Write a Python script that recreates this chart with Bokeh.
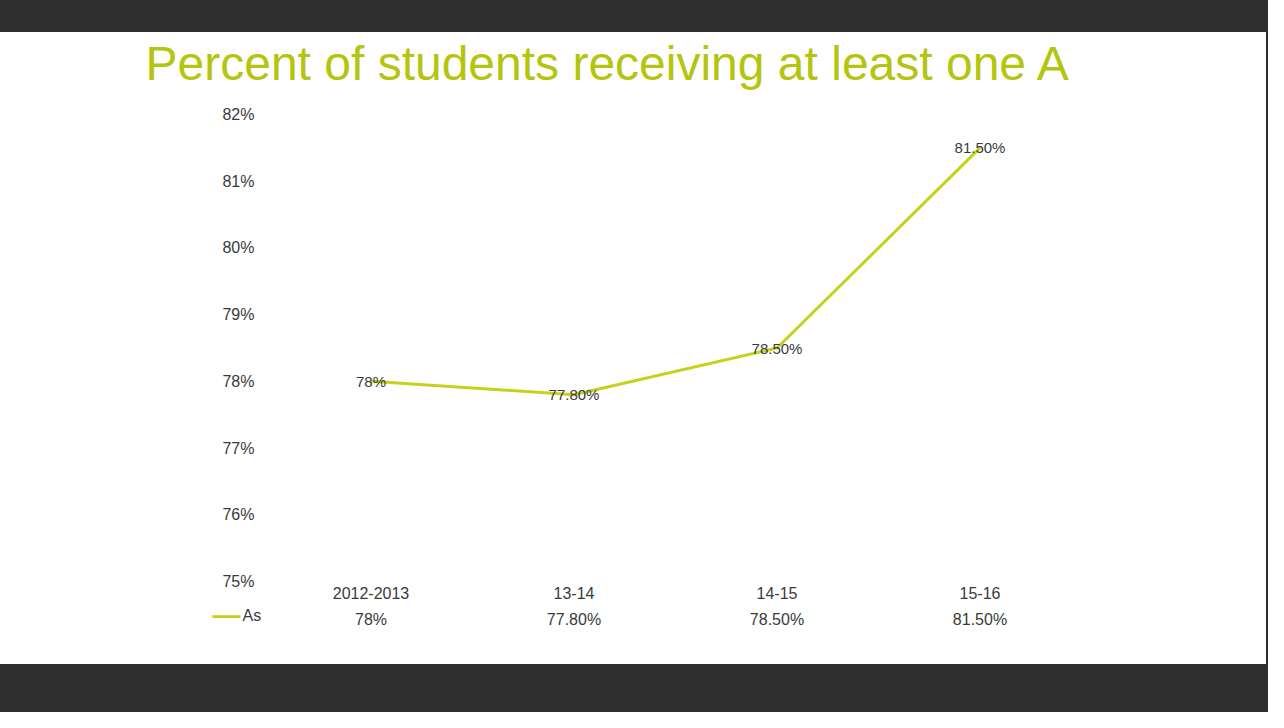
from bokeh.plotting import figure
from bokeh.layouts import column
from bokeh.models import (Range1d, FactorRange, CategoricalAxis, FixedTicker,
                          PrintfTickFormatter, Title)
from bokeh.embed import file_html
from bokeh.resources import INLINE
from bokeh.core.properties import value

# ---- data ----
categories = ["2012-2013", "13-14", "14-15", "15-16"]
values = [78.0, 77.8, 78.5, 81.5]
value_labels = ["78%", "77.80%", "78.50%", "81.50%"]
y_ticks = [75, 76, 77, 78, 79, 80, 81, 82]
series_name = "As"
title_text = "Percent of students receiving at least one A"

LINE = "#c5d21c"
TITLE_C = "#b5c40f"
TXT = "#3a3a3a"
FONT = "Liberation Sans"

p = figure(width=1266, height=632, x_range=FactorRange(*categories),
           y_range=Range1d(75, 82.345), output_backend="svg",
           toolbar_location=None, tools="", outline_line_color=None,
           min_border_left=269, min_border_right=185, min_border_top=59,
           min_border_bottom=83)
p.margin = (32, 2, 48, 0)
p.styles = {"background-color": "white"}
p.background_fill_color = "white"
p.border_fill_color = "white"
p.grid.visible = False

t = Title(text=title_text, text_font=FONT, text_font_size="48px",
          text_font_style="normal", text_color=TITLE_C, align="left",
          offset=-124, standoff=4)
p.add_layout(t, "above")

# y axis
p.yaxis.ticker = FixedTicker(ticks=y_ticks)
p.yaxis.formatter = PrintfTickFormatter(format="%d%%")
p.yaxis.axis_line_color = None
p.yaxis.major_tick_line_color = None
p.yaxis.minor_tick_line_color = None
p.yaxis.major_tick_out = 0
p.yaxis.major_label_standoff = 15
p.yaxis.major_label_text_font = FONT
p.yaxis.major_label_text_font_size = "16px"
p.yaxis.major_label_text_color = TXT

# x axis (category row)
xa = p.xaxis[0]
xa.axis_line_color = None
xa.major_tick_line_color = None
xa.major_tick_out = 0
xa.major_label_standoff = 5
xa.major_label_text_font = FONT
xa.major_label_text_font_size = "16px"
xa.major_label_text_color = TXT

# data-table row (values)
p.extra_x_ranges = {"vals": FactorRange(*value_labels)}
xa2 = CategoricalAxis(x_range_name="vals")
xa2.axis_line_color = None
xa2.major_tick_line_color = None
xa2.major_tick_out = 0
xa2.major_label_standoff = 9
xa2.major_label_text_font = FONT
xa2.major_label_text_font_size = "16px"
xa2.major_label_text_color = TXT
p.add_layout(xa2, "below")

r = p.line(x=categories, y=values, line_color=LINE, line_width=3)
p.text(x=categories, y=values, text=value_labels, text_align="center",
       text_baseline="middle", text_font=value(FONT), text_font_size="15px",
       text_color=TXT)

# legend key of the data table (series name + line swatch)
t_as = Title(text=series_name, text_font=FONT, text_font_size="16px",
             text_font_style="normal", text_color=TXT, align="left",
             vertical_align="top", offset=-27, standoff=-48)
p.add_layout(t_as, "below")
t_sw = Title(text="\u2014", text_font=FONT, text_font_size="28px",
             text_font_style="bold", text_color=LINE, align="left",
             vertical_align="top", offset=-57, standoff=-64)
p.add_layout(t_sw, "below")

layout = column(p, width=1268, height=712,
                styles={"background-color": "#2f2f2f"})

open("out.html", "w").write(file_html(layout, INLINE))
